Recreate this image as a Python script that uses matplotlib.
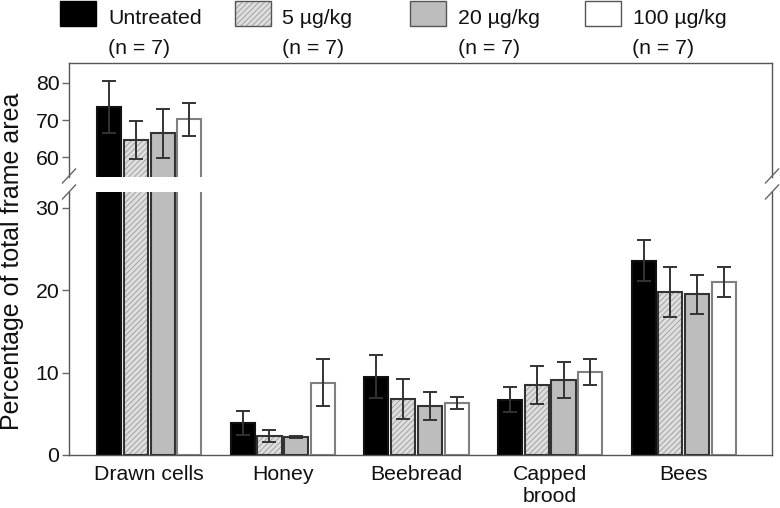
import numpy as np
import matplotlib
matplotlib.use("Agg")
import matplotlib.pyplot as plt
from matplotlib.patches import Rectangle
from matplotlib.lines import Line2D

plt.rcParams['font.family'] = ['Liberation Sans', 'DejaVu Sans']
plt.rcParams['hatch.linewidth'] = 0.6

categories = ["Drawn cells", "Honey", "Beebread", "Capped\nbrood", "Bees"]
groups = ["Untreated", "5 µg/kg", "20 µg/kg", "100 µg/kg"]
n_labels = ["(n = 7)", "(n = 7)", "(n = 7)", "(n = 7)"]

untreated = [73.4, 3.9, 9.5, 6.7, 23.6]
untreated_err = [7.0, 1.5, 2.6, 1.5, 2.5]
dose5 = [64.6, 2.3, 6.8, 8.5, 19.8]
dose5_err = [5.1, 0.7, 2.4, 2.3, 3.0]
dose20 = [66.4, 2.2, 6.0, 9.1, 19.5]
dose20_err = [6.5, 0.1, 1.7, 2.15, 2.35]
dose100 = [70.2, 8.8, 6.3, 10.1, 21.0]
dose100_err = [4.4, 2.8, 0.75, 1.6, 1.8]

values = [untreated, dose5, dose20, dose100]
errors = [untreated_err, dose5_err, dose20_err, dose100_err]

faces = ['#000000', '#dedede', '#bdbdbd', '#ffffff']
edges = ['#111111', '#333333', '#333333', '#808080']
hatches = [None, '//////', None, None]

FS = 15.3
W, H = 780, 508
fig = plt.figure(figsize=(7.8, 5.08), dpi=100)

def fx(px):
    return px / W

def fy(py):
    return 1 - py / H

left, right = 69, 772
top_t, top_b = 63.3, 176.7
bot_t, bot_b = 191.5, 455

ax_top = fig.add_axes([fx(left), fy(top_b), fx(right - left), (top_b - top_t) / H])
ax_bot = fig.add_axes([fx(left), fy(bot_b), fx(right - left), (bot_b - bot_t) / H])

x = np.arange(len(categories))
pitch = 0.2
width = 0.18
spine_col = '#555555'

for ax in (ax_top, ax_bot):
    for i in range(4):
        pos = x + (i - 1.5) * pitch
        if hatches[i]:
            ax.bar(pos, values[i], width, color=faces[i], edgecolor='#9a9a9a',
                   hatch=hatches[i], linewidth=0, zorder=2)
            ax.bar(pos, values[i], width, color='none', edgecolor=edges[i],
                   linewidth=1.5, zorder=3)
        else:
            ax.bar(pos, values[i], width, color=faces[i], edgecolor=edges[i],
                   linewidth=1.5, zorder=3)
        ax.errorbar(pos, values[i], yerr=errors[i], fmt='none', ecolor='#333333',
                    elinewidth=1.4, capsize=5, capthick=1.4, zorder=4)
    ax.set_xlim(-0.6, 4.66)
    for s in ax.spines.values():
        s.set_color(spine_col)
        s.set_linewidth(1.0)
    ax.tick_params(axis='y', length=5, width=1, color='#666666', labelsize=FS,
                   pad=2, labelcolor='#111111')

ax_top.set_ylim(54.8, 85.2)
ax_top.set_yticks([60, 70, 80])
ax_top.spines['bottom'].set_visible(False)
ax_top.set_xticks([])

ax_bot.set_ylim(0, 32)
ax_bot.set_yticks([0, 10, 20, 30])
ax_bot.spines['top'].set_visible(False)
ax_bot.set_xticks(x)
ax_bot.set_xticklabels(categories, fontsize=FS, color='#111111')
ax_bot.tick_params(axis='x', length=0, pad=7)

# break marks
for (cx, cy) in [(left, 176), (left, 192), (right, 176), (right, 192)]:
    fig.add_artist(Line2D([fx(cx - 6.5), fx(cx + 6.5)], [fy(cy + 7), fy(cy - 7)],
                          color='#666666', linewidth=1.0))

# y label
fig.text(fx(12), fy(261), "Percentage of total frame area",
         rotation=90, ha='center', va='center', fontsize=18, color='#111111')

# legend
leg_x = [60, 234.5, 410, 585]
for i in range(4):
    x0, y0, w, h = fx(leg_x[i]), fy(25.5), fx(36), 24.5 / H
    if hatches[i]:
        fig.add_artist(Rectangle((x0, y0), w, h, transform=fig.transFigure,
                                 facecolor=faces[i], edgecolor='#9a9a9a',
                                 hatch=hatches[i], linewidth=0))
        fig.add_artist(Rectangle((x0, y0), w, h, transform=fig.transFigure,
                                 facecolor='none', edgecolor='#555555', linewidth=1.0))
    else:
        fig.add_artist(Rectangle((x0, y0), w, h, transform=fig.transFigure,
                                 facecolor=faces[i],
                                 edgecolor='#555555' if i else '#000000', linewidth=1.0))
    fig.text(fx(leg_x[i] + 48), fy(18), groups[i], ha='left', va='center',
             fontsize=FS, color='#111111')
    fig.text(fx(leg_x[i] + 47.5), fy(48), n_labels[i], ha='left', va='center',
             fontsize=FS, color='#111111')

fig.savefig("out.png", dpi=100)
